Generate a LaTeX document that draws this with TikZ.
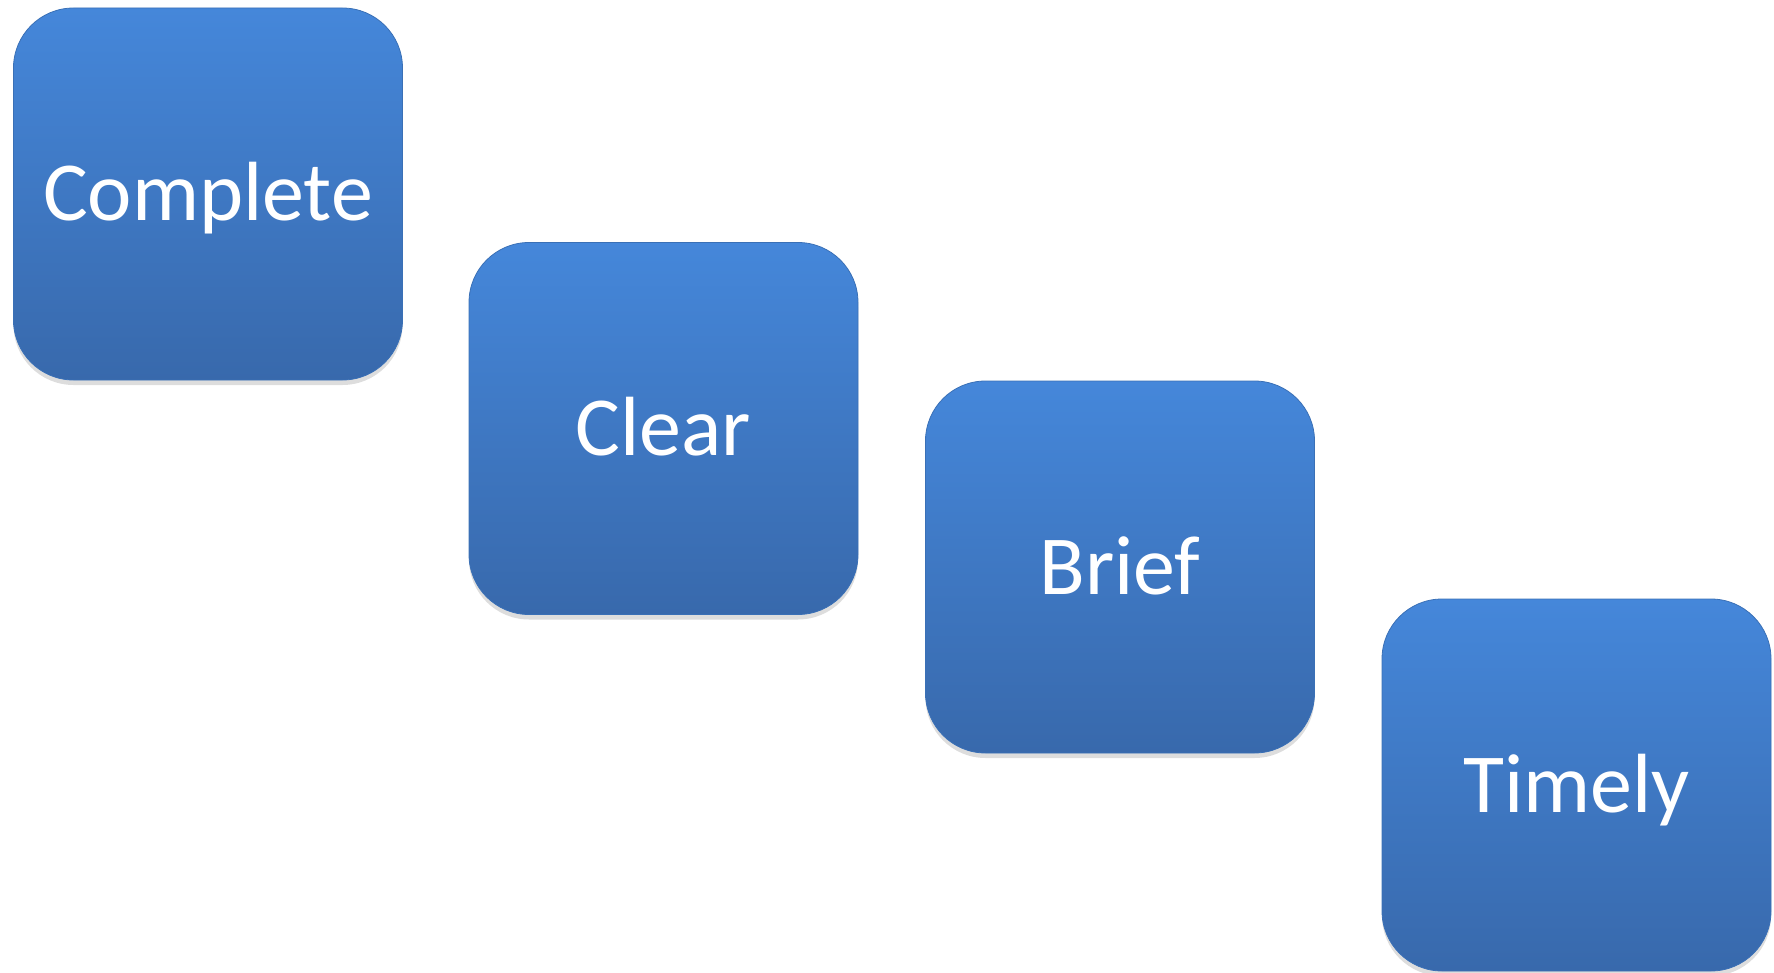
\documentclass[tikz,border=0pt]{standalone}
\usepackage{fontspec}
\setmainfont{Carlito}
\usetikzlibrary{shadows}
\definecolor{boxtop}{HTML}{4587DA}
\definecolor{boxbot}{HTML}{3869AC}
\definecolor{boxline}{HTML}{3A70B6}
\tikzset{
  card/.style={rectangle, minimum width=389pt, minimum height=372pt,
    rounded corners=60pt, top color=boxtop, bottom color=boxbot,
    draw=boxline, line width=0.8pt, text=white,
    font=\fontsize{84}{100}\selectfont, text height=54pt, text depth=0pt,
    inner sep=0pt,
    drop shadow={shadow xshift=0pt, shadow yshift=-5pt, opacity=0.22, fill=black!60}}
}
\begin{document}
\begin{tikzpicture}[x=1pt,y=-1pt]
\useasboundingbox (0,0) rectangle (1774,973);
\node[card] (complete) at (208,194) {Complete};
\node[card] (clear) at (663.5,428.5) {Clear};
\node[card] (brief) at (1120,567) {Brief};
\node[card] (timely) at (1576.5,785) {Timely};
\end{tikzpicture}
\end{document}
